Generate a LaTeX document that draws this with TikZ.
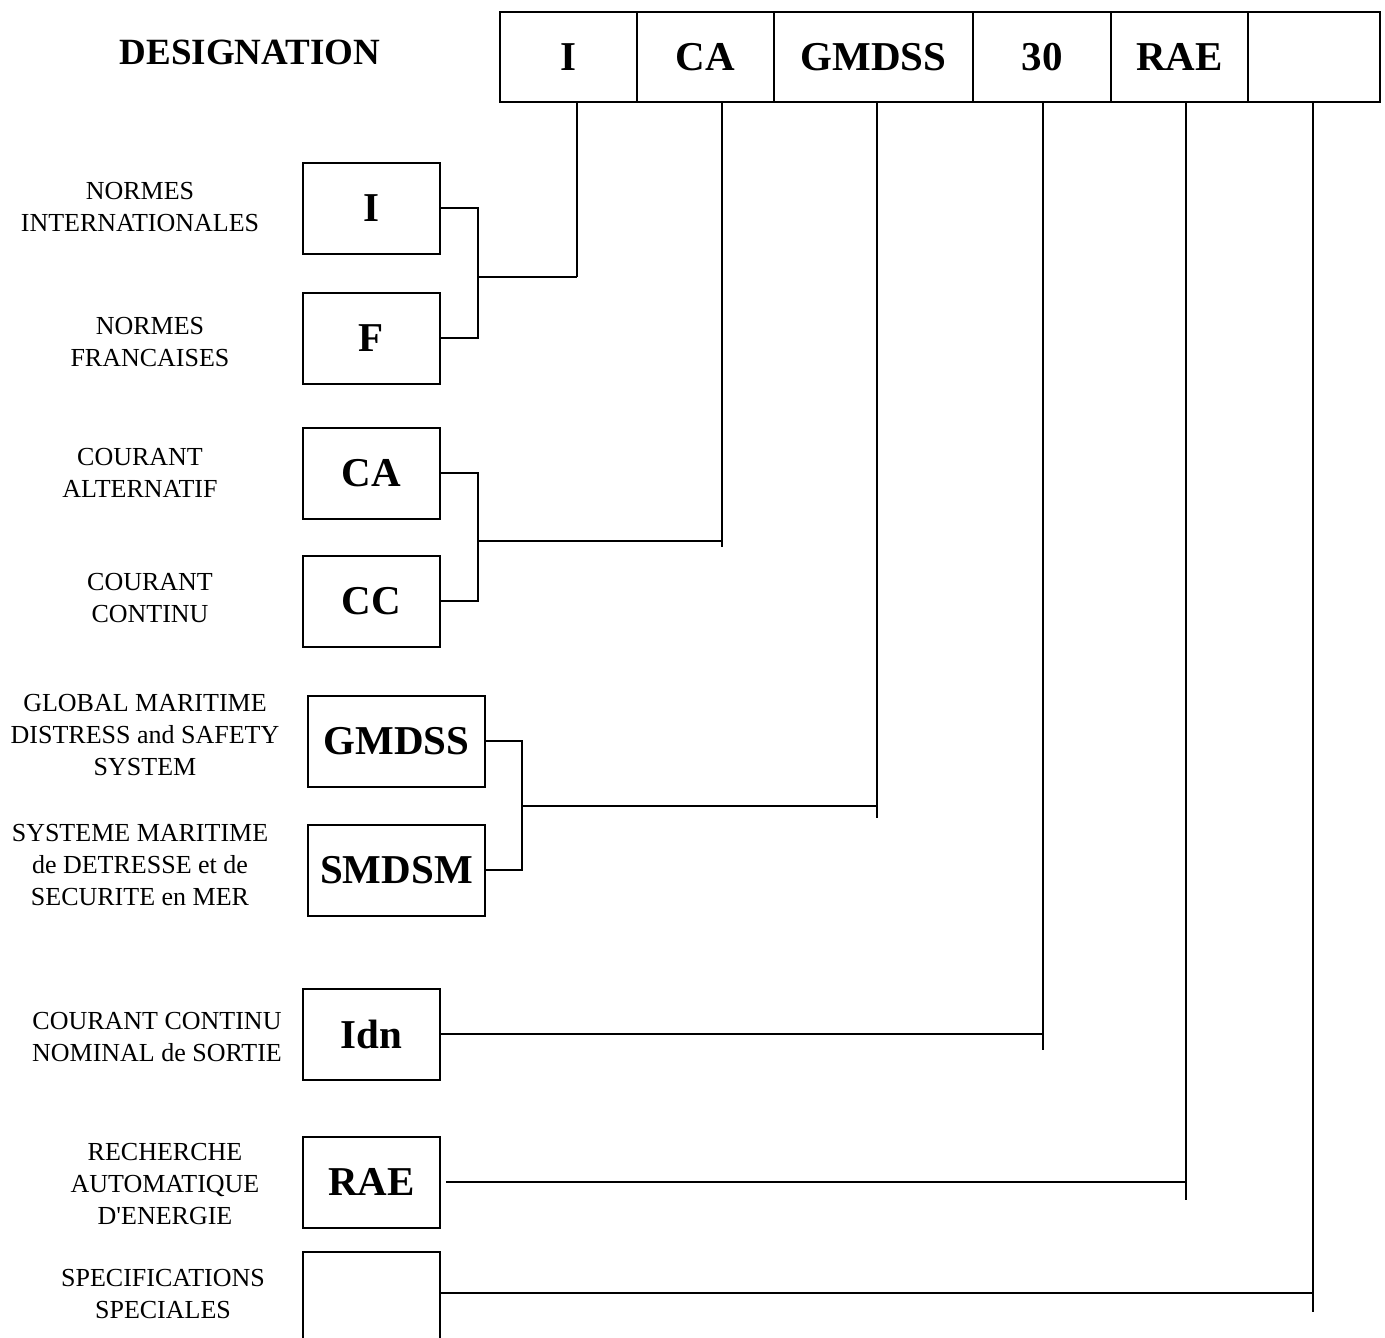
\documentclass[tikz,border=0pt]{standalone}
\usepackage{fontspec}
\setmainfont{Liberation Serif}
\begin{document}
\begin{tikzpicture}[x=1pt,y=-1pt,
  cell/.style={draw, line width=2.5pt, minimum height=90pt, inner sep=0pt, text depth=-3pt, font=\bfseries\fontsize{41}{49}\selectfont},
  codebox/.style={draw, line width=2pt, minimum width=137pt, minimum height=91pt, inner sep=0pt, font=\bfseries\fontsize{41}{49}\selectfont},
  widebox/.style={codebox, minimum width=177pt},
  lbl/.style={align=center, inner sep=0pt, font=\fontsize{26}{32}\selectfont},
  conn/.style={line width=1.8pt}]
\useasboundingbox (0,0) rectangle (1385,1338);

\node[font=\bfseries\fontsize{37}{44}\selectfont] (title) at (250,52) {DESIGNATION};

% top table
\node[cell, minimum width=137pt] (t1) at (568.5,57) {I};
\node[cell, minimum width=137pt] (t2) at (705.5,57) {CA};
\node[cell, minimum width=199pt] (t3) at (873.5,57) {GMDSS};
\node[cell, minimum width=138pt] (t4) at (1042,57) {30};
\node[cell, minimum width=137pt] (t5) at (1179.5,57) {RAE};
\node[cell, minimum width=132pt] (t6) at (1314,57) {};

% left boxes
\node[codebox] (bI) at (371.5,208) {I};
\node[codebox] (bF) at (371.5,338) {F};
\node[codebox] (bCA) at (371.5,473) {CA};
\node[codebox] (bCC) at (371.5,601) {CC};
\node[widebox] (bG) at (396.5,741) {GMDSS};
\node[widebox] (bS) at (396.5,870) {SMDSM};
\node[codebox] (bIdn) at (371.5,1034) {Idn};
\node[codebox] (bRAE) at (371.5,1182) {RAE};
\node[codebox, minimum height=100pt] (bSp) at (371.5,1302) {};

% labels
\node[lbl] (lI) at (140,207) {NORMES\\INTERNATIONALES};
\node[lbl] (lF) at (150,342) {NORMES\\FRANCAISES};
\node[lbl] (lCA) at (140,473) {COURANT\\ALTERNATIF};
\node[lbl] (lCC) at (150,598) {COURANT\\CONTINU};
\node[lbl] (lG) at (145,735) {GLOBAL MARITIME\\DISTRESS and SAFETY\\SYSTEM};
\node[lbl] (lS) at (140,865) {SYSTEME MARITIME\\de DETRESSE et de\\SECURITE en MER};
\node[lbl] (lIdn) at (157,1037) {COURANT CONTINU\\NOMINAL de SORTIE};
\node[lbl] (lRAE) at (165,1184) {RECHERCHE\\AUTOMATIQUE\\D\textquotesingle ENERGIE};
\node[lbl] (lSp) at (163,1294) {SPECIFICATIONS\\SPECIALES};

% junction coordinates
\coordinate (jI) at (478,277);
\coordinate (dI) at (577,277);
\coordinate (jC) at (478,541);
\coordinate (dC) at (722,541);
\coordinate (eC) at (722,547);
\coordinate (jG) at (522,806);
\coordinate (dG) at (877,806);
\coordinate (eG) at (877,818);
\coordinate (d4) at (1043,1034);
\coordinate (e4) at (1043,1050);
\coordinate (d5) at (1186,1182);
\coordinate (e5) at (1186,1200);
\coordinate (d6) at (1313,1293);
\coordinate (e6) at (1313,1312);

% brackets
\draw[conn] (bI.east) -| (jI) |- (bF.east);
\draw[conn] (jI) -- (dI);
\draw[conn] (dI |- t1.south) -- (dI);

\draw[conn] (bCA.east) -| (jC) |- (bCC.east);
\draw[conn] (jC) -- (dC);
\draw[conn] (eC |- t2.south) -- (eC);

\draw[conn] (bG.east) -| (jG) |- (bS.east);
\draw[conn] (jG) -- (dG);
\draw[conn] (eG |- t3.south) -- (eG);

\draw[conn] (bIdn.east) -- (d4);
\draw[conn] (e4 |- t4.south) -- (e4);

\draw[conn] ([xshift=5pt]bRAE.east) -- (d5);
\draw[conn] (e5 |- t5.south) -- (e5);

\draw[conn] (d6 -| bSp.east) -- (d6);
\draw[conn] (e6 |- t6.south) -- (e6);
\end{tikzpicture}
\end{document}
